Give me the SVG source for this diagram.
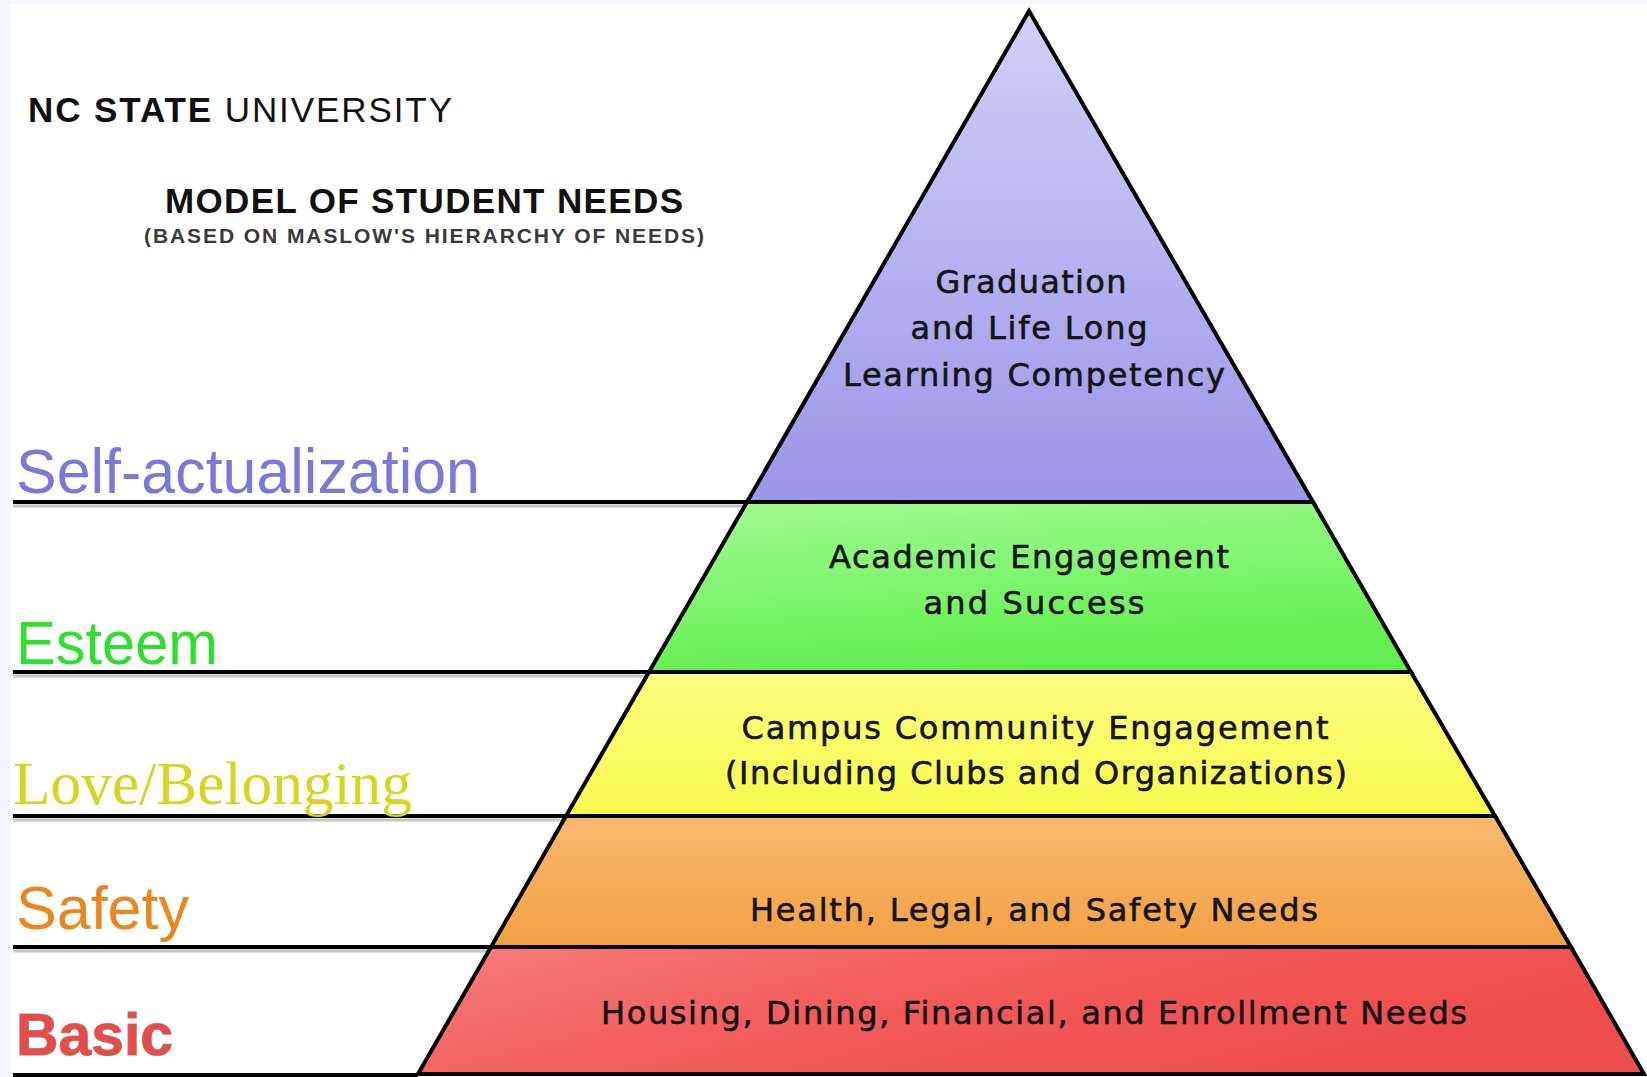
<svg xmlns="http://www.w3.org/2000/svg" width="1647" height="1077" viewBox="0 0 1647 1077">
  <defs>
    <linearGradient id="gTop" x1="0" y1="0" x2="0" y2="1">
      <stop offset="0" stop-color="#d2d0f7"/>
      <stop offset="1" stop-color="#9a95e8"/>
    </linearGradient>
    <linearGradient id="gEsteem" x1="0" y1="0" x2="0.3" y2="1">
      <stop offset="0" stop-color="#a2fb93"/>
      <stop offset="1" stop-color="#62ee50"/>
    </linearGradient>
    <linearGradient id="gLove" x1="0" y1="0" x2="0" y2="1">
      <stop offset="0" stop-color="#fdfd82"/>
      <stop offset="1" stop-color="#f9f94c"/>
    </linearGradient>
    <linearGradient id="gSafety" x1="0" y1="0" x2="0" y2="1">
      <stop offset="0" stop-color="#f8b972"/>
      <stop offset="1" stop-color="#f3a043"/>
    </linearGradient>
    <linearGradient id="gBasic" x1="0" y1="0" x2="1" y2="0.4">
      <stop offset="0" stop-color="#f77d7d"/>
      <stop offset="0.5" stop-color="#f25a5a"/>
      <stop offset="1" stop-color="#ef4d4d"/>
    </linearGradient>
    <style>
      .layer { stroke: #000; stroke-width: 4; stroke-linejoin: miter; }
      .inner { font-family: "DejaVu Sans", "Liberation Sans", sans-serif; font-size: 32px; fill: #141414; stroke: #141414; stroke-width: 0.6px; text-anchor: middle; }
      .lvl { font-family: "Liberation Sans", Arial, sans-serif; }
      .lead { stroke: #000; stroke-width: 4; fill: none; }
      .shade { stroke: #c4c4c4; stroke-width: 3; fill: none; }
    </style>
  </defs>

  <!-- page -->
  <rect x="0" y="0" width="1647" height="1077" fill="#ffffff"/>
  <rect x="0" y="0" width="11" height="1077" fill="#f4f7fc"/>
  <rect x="0" y="0" width="1647" height="4" fill="#f4f7fc"/>

  <!-- heading -->
  <g id="title">
    <text x="28" y="122" font-family="Liberation Sans, Arial, sans-serif" font-size="35" fill="#111" textLength="424" lengthAdjust="spacing"><tspan font-weight="bold">NC STATE</tspan> UNIVERSITY</text>
    <text x="165" y="213" font-family="Liberation Sans, Arial, sans-serif" font-size="35" font-weight="bold" fill="#111" textLength="518" lengthAdjust="spacing">MODEL OF STUDENT NEEDS</text>
    <text x="144" y="243" font-family="Liberation Sans, Arial, sans-serif" font-size="21" font-weight="bold" fill="#3a3a3a" textLength="560" lengthAdjust="spacing">(BASED ON MASLOW'S HIERARCHY OF NEEDS)</text>
  </g>

  <!-- leader lines from the level names to the pyramid -->
  <g id="connectors">
    <line class="shade" x1="13" y1="506" x2="745" y2="506"/>
    <line class="lead" x1="13" y1="502" x2="747" y2="502"/>
    <line class="shade" x1="13" y1="676" x2="647" y2="676"/>
    <line class="lead" x1="13" y1="672" x2="649" y2="672"/>
    <line class="shade" x1="13" y1="820" x2="564" y2="820"/>
    <line class="lead" x1="13" y1="816" x2="566" y2="816"/>
    <line class="shade" x1="13" y1="951" x2="489" y2="951"/>
    <line class="lead" x1="13" y1="947" x2="491" y2="947"/>
    <line class="lead" x1="13" y1="1075" x2="418" y2="1075"/>
  </g>

  <!-- level names -->
  <g id="label-self-actualization">
    <text class="lvl" x="16" y="493" font-size="63" fill="#7b78dc" textLength="464" lengthAdjust="spacingAndGlyphs">Self-actualization</text>
  </g>
  <g id="label-esteem">
    <text class="lvl" x="16" y="664" font-size="61" fill="#2ee02e" textLength="202" lengthAdjust="spacingAndGlyphs">Esteem</text>
  </g>
  <g id="label-love">
    <text x="13" y="804" font-family="Liberation Serif, 'Times New Roman', serif" font-size="62" fill="#d6d620" textLength="399" lengthAdjust="spacingAndGlyphs">Love/Belonging</text>
  </g>
  <g id="label-safety">
    <text class="lvl" x="16" y="929" font-size="62" fill="#e9861e" textLength="173" lengthAdjust="spacingAndGlyphs">Safety</text>
  </g>
  <g id="label-basic">
    <text class="lvl" x="16" y="1055" font-size="59" font-weight="bold" fill="#e64c4c" stroke="#a8906c" stroke-width="1.2" paint-order="stroke" textLength="157" lengthAdjust="spacingAndGlyphs">Basic</text>
  </g>

  <!-- pyramid layers -->
  <g id="layer-graduation">
    <polygon class="layer" points="1029,11 1313,502 747,502" fill="url(#gTop)"/>
    <text class="inner" x="1031" y="293" textLength="191" lengthAdjust="spacing">Graduation</text>
    <text class="inner" x="1029" y="339" textLength="237" lengthAdjust="spacing">and Life Long</text>
    <text class="inner" x="1034" y="386" textLength="382" lengthAdjust="spacing">Learning Competency</text>
  </g>
  <g id="layer-academic">
    <polygon class="layer" points="747,502 1313,502 1411,672 649,672" fill="url(#gEsteem)"/>
    <text class="inner" x="1029" y="568" textLength="400" lengthAdjust="spacing">Academic Engagement</text>
    <text class="inner" x="1034" y="614" textLength="221" lengthAdjust="spacing">and Success</text>
  </g>
  <g id="layer-community">
    <polygon class="layer" points="649,672 1411,672 1495,816 566,816" fill="url(#gLove)"/>
    <text class="inner" x="1035" y="739" textLength="587" lengthAdjust="spacing">Campus Community Engagement</text>
    <text class="inner" x="1036" y="784" textLength="622" lengthAdjust="spacing">(Including Clubs and Organizations)</text>
  </g>
  <g id="layer-safety">
    <polygon class="layer" points="566,816 1495,816 1571,947 491,947" fill="url(#gSafety)"/>
    <text class="inner" x="1034" y="921" textLength="568" lengthAdjust="spacing">Health, Legal, and Safety Needs</text>
  </g>
  <g id="layer-basic">
    <polygon class="layer" points="491,947 1571,947 1644,1074 418,1074" fill="url(#gBasic)"/>
    <text class="inner" x="1034" y="1024" textLength="866" lengthAdjust="spacing">Housing, Dining, Financial, and Enrollment Needs</text>
  </g>
</svg>
